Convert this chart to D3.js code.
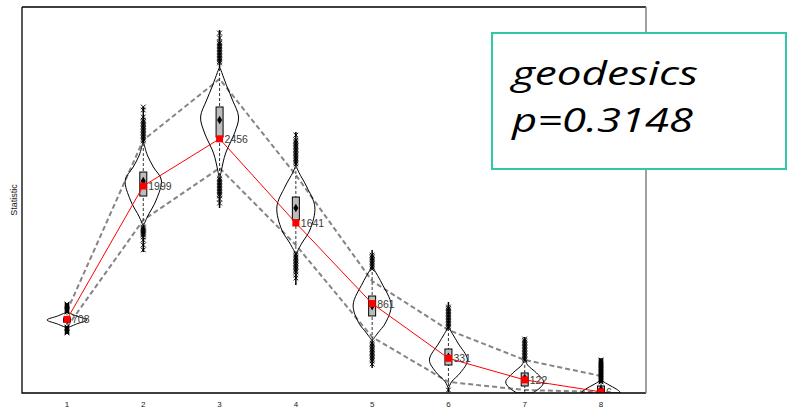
<!DOCTYPE html>
<html>
<head>
<meta charset="utf-8">
<script src="https://cdn.jsdelivr.net/npm/d3@7"></script>
<style>
  html, body { margin: 0; padding: 0; background: #fff; }
  svg { display: block; }
</style>
</head>
<body>
<svg id="chart" width="790" height="409"></svg>
<script>
// Category positions along the x axis
const categories = [1, 2, 3, 4, 5, 6, 7, 8];
const tickLabels = ["1", "2", "3", "4", "5", "6", "7", "8"];

// Observed statistic for each category (red squares + labels)
const observed = [708, 1999, 2456, 1641, 861, 331, 122, 6];

// Envelope of the null distribution (grey dashed lines)
const upperEnv = [789, 2444, 3035, 2105, 1079, 605, 315, 160];
const lowerEnv = [634, 1670, 2173, 1428, 537, 102, 24, 5];

// Box plot summaries of the simulated statistic
const boxHi = [721, 2134, 2764, 1892, 934, 421, 189, 63];
const boxLo = [682, 1902, 2473, 1670, 741, 266, 63, -5];
const means = [702, 2047, 2638, 1786, 837, 344, 140, 30];
const whiskerHi = [857, 2764, 3509, 2521, 1379, 876, 537, 334];
const whiskerLo = [566, 1360, 1786, 1041, 237, 5, -5, -5];

// Extreme simulated values drawn as crosses
const outliersHi = [
  [857, 847, 837, 828, 818, 808, 799, 789, 779],
  [2764, 2735, 2667, 2638, 2623, 2609, 2594, 2580, 2565, 2551, 2536, 2522, 2507, 2493, 2478, 2464, 2450, 2435],
  [3480, 3432, 3393, 3379, 3364, 3350, 3335, 3321, 3306, 3292, 3277, 3263, 3248, 3234, 3219, 3205, 3190],
  [2492, 2444, 2430, 2415, 2401, 2386, 2372, 2357, 2343, 2328, 2314, 2299, 2285, 2270, 2256, 2241, 2227, 2212],
  [1331, 1316, 1302, 1287, 1273, 1258, 1244, 1229, 1215, 1195],
  [828, 813, 799, 784, 770, 755, 741, 726, 711, 697, 682, 668, 653, 639, 624],
  [518, 503, 489, 474, 460, 445, 431, 416, 402, 387, 373, 358, 344, 329, 315],
  [315, 305, 295, 286, 276, 266, 257, 247, 237, 228, 218, 208, 199, 189, 179, 170, 160, 150, 140, 131, 121, 111, 102]
];
const outliersLo = [
  [634, 624, 615, 605, 595, 586, 576],
  [1602, 1592, 1582, 1573, 1563, 1554, 1544, 1534, 1525, 1505, 1476, 1428, 1380],
  [2076, 2062, 2047, 2033, 2018, 2004, 1989, 1975, 1960, 1946, 1931, 1917, 1902, 1873, 1834],
  [1341, 1327, 1312, 1298, 1283, 1269, 1254, 1240, 1225, 1210, 1195, 1181, 1166, 1137, 1108],
  [479, 465, 450, 436, 421, 407, 392, 378, 363, 349, 334, 320, 305, 276],
  [24],
  [],
  []
];

// Violin outlines: [value, relative density]
const violinShapes = [
  [[779, 0], [740, 0.5], [702, 1.05], [663, 0.5], [624, 0]],
  [[2415, 0.03], [2299, 0.21], [2183, 0.53], [2057, 0.95], [1863, 0.68], [1699, 0.21], [1621, 0.03]],
  [[3141, 0.03], [2957, 0.4], [2831, 0.68], [2667, 1.0], [2512, 0.79], [2318, 0.32], [2154, 0.1], [2076, 0.02]],
  [[2193, 0.02], [2134, 0.15], [1989, 0.58], [1796, 1.0], [1573, 0.74], [1447, 0.32], [1350, 0.03]],
  [[1215, 0.02], [1060, 0.5], [847, 1.0], [673, 0.7], [576, 0.3], [508, 0.03]],
  [[624, 0.03], [479, 0.5], [315, 1.0], [189, 0.62], [102, 0.16], [44, 0.02]],
  [[315, 0.02], [266, 0.15], [189, 0.62], [102, 1.0], [44, 0.8], [-5, 0.4]],
  [[140, 0.02], [111, 0.1], [73, 0.42], [34, 0.8], [5, 1.0], [-5, 1.0]]
];

// Annotation lines
const noteLines = ["geodesics", "p=0.3148"];

const svg = d3.select("#chart");
const plot = { left: 22, right: 646, top: 7, bottom: 393 };

const x = d3.scaleLinear().domain([0.41, 8.59]).range([plot.left, plot.right]);
const y = d3.scaleLinear().domain([-5, 3732]).range([plot.bottom, plot.top]);
const w = d3.scaleLinear().domain([0, 1]).range([0, 19]);

svg.append("defs").append("clipPath").attr("id", "plotClip")
  .append("rect")
  .attr("x", plot.left).attr("y", plot.top)
  .attr("width", plot.right - plot.left).attr("height", plot.bottom - plot.top);

const g = svg.append("g").attr("clip-path", "url(#plotClip)");

// Null envelope
const envLine = d3.line().x((d, i) => x(categories[i])).y(d => y(d));
[upperEnv, lowerEnv].forEach(env => {
  g.append("path").attr("d", envLine(env))
    .attr("fill", "none").attr("stroke", "#858585")
    .attr("stroke-width", 2).attr("stroke-dasharray", "5,3");
});

// Violins with box plots
const violinArea = d3.area()
  .curve(d3.curveCatmullRom)
  .y(d => y(d[0]));

categories.forEach((c, i) => {
  const cx = x(c);
  const shape = violinShapes[i];
  const top = shape[0][0], bottom = shape[shape.length - 1][0];

  // solid whisker tails outside the violin
  g.append("line").attr("x1", cx).attr("x2", cx)
    .attr("y1", y(whiskerHi[i])).attr("y2", y(top))
    .attr("stroke", "#000").attr("stroke-width", 1.5);
  g.append("line").attr("x1", cx).attr("x2", cx)
    .attr("y1", y(bottom)).attr("y2", y(whiskerLo[i]))
    .attr("stroke", "#000").attr("stroke-width", 1.5);

  // violin outline
  violinArea.x0(d => cx - w(d[1])).x1(d => cx + w(d[1]));
  g.append("path").attr("d", violinArea(shape))
    .attr("fill", "none").attr("stroke", "#000").attr("stroke-width", 1);

  // dashed whisker through the violin
  g.append("line").attr("x1", cx).attr("x2", cx)
    .attr("y1", y(top)).attr("y2", y(bottom))
    .attr("stroke", "#333").attr("stroke-width", 1).attr("stroke-dasharray", "3,2");

  // box
  g.append("rect")
    .attr("x", cx - 3.5).attr("width", 7)
    .attr("y", y(boxHi[i])).attr("height", y(boxLo[i]) - y(boxHi[i]))
    .attr("fill", "#bdbdbd").attr("stroke", "#000").attr("stroke-width", 1);

  // mean marker
  g.append("path")
    .attr("d", d3.symbol(d3.symbolDiamond, 22)())
    .attr("transform", `translate(${cx},${y(means[i])})`)
    .attr("fill", "#000");

  // crosses for extreme values
  outliersHi[i].concat(outliersLo[i]).forEach(v => {
    const py = y(v), s = 2.3;
    g.append("path")
      .attr("d", `M${cx - s},${py - s}L${cx + s},${py + s}M${cx - s},${py + s}L${cx + s},${py - s}`)
      .attr("stroke", "#000").attr("stroke-width", 1).attr("fill", "none");
  });
});

// Observed statistic
g.append("path")
  .attr("d", d3.line().x((d, i) => x(categories[i])).y(d => y(d))(observed))
  .attr("fill", "none").attr("stroke", "#ff0000").attr("stroke-width", 1);

g.selectAll("rect.obs").data(observed).join("rect")
  .attr("class", "obs")
  .attr("x", (d, i) => x(categories[i]) - 3.5)
  .attr("y", d => y(d) - 3.5)
  .attr("width", 7).attr("height", 7)
  .attr("fill", "#ff0000");

g.selectAll("text.val").data(observed).join("text")
  .attr("class", "val")
  .attr("x", (d, i) => x(categories[i]) + 5)
  .attr("y", d => y(d) + 4)
  .attr("font-family", "Liberation Sans, Arial, sans-serif")
  .attr("font-size", 10.5)
  .attr("fill", "#3a3a3a")
  .text(d => d);

// Frame
svg.append("path")
  .attr("d", `M${plot.left},${plot.top}H${plot.right}M${plot.left},${plot.top}V${plot.bottom}H${plot.right}`)
  .attr("fill", "none").attr("stroke", "#000").attr("stroke-width", 1.3);
svg.append("line")
  .attr("x1", plot.right).attr("x2", plot.right)
  .attr("y1", plot.top).attr("y2", plot.bottom)
  .attr("stroke", "#808080").attr("stroke-width", 1.5);

// X tick labels
svg.append("g").selectAll("text").data(categories).join("text")
  .attr("x", d => x(d)).attr("y", 407)
  .attr("text-anchor", "middle")
  .attr("font-family", "Liberation Sans, Arial, sans-serif")
  .attr("font-size", 8).attr("fill", "#222")
  .text((d, i) => tickLabels[i]);

// Y axis title
svg.append("text")
  .attr("transform", "translate(17,200) rotate(-90)")
  .attr("text-anchor", "middle")
  .attr("font-family", "Liberation Sans, Arial, sans-serif")
  .attr("font-size", 9).attr("fill", "#222")
  .text("Statistic");

// Annotation box (text is set wide, stretched to its frame)
const noteWidths = [186, 181];
const note = svg.append("g");
note.append("rect")
  .attr("x", 492).attr("y", 33).attr("width", 294).attr("height", 136)
  .attr("fill", "#fff").attr("stroke", "#2fc7a7").attr("stroke-width", 2);
note.selectAll("text").data(noteLines).join("text")
  .attr("x", 512).attr("y", (d, i) => 85 + i * 47)
  .attr("font-family", "'Open Sans', Lato, sans-serif")
  .attr("font-style", "italic")
  .attr("font-size", 33).attr("fill", "#000")
  .attr("textLength", (d, i) => noteWidths[i])
  .attr("lengthAdjust", "spacingAndGlyphs")
  .text(d => d);
</script>
</body>
</html>
